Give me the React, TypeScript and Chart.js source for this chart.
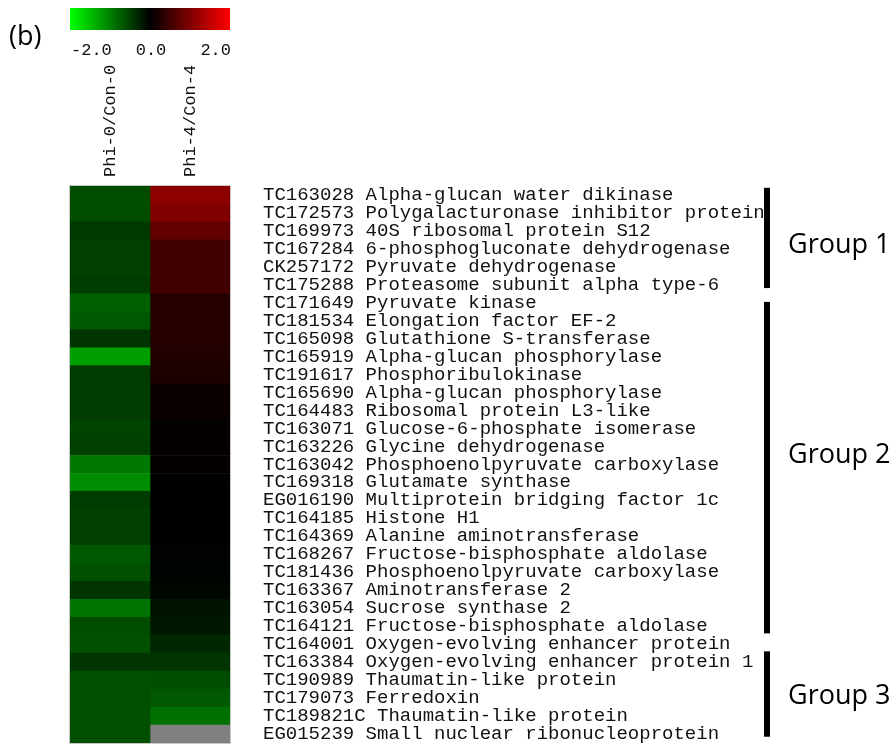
import React, { useEffect, useRef } from "react";
import { Chart, registerables } from "chart.js";

Chart.register(...registerables);

// ---------- data ----------
const conditions = ["Phi-0/Con-0", "Phi-4/Con-4"];

const genes = [
  "TC163028 Alpha-glucan water dikinase",
  "TC172573 Polygalacturonase inhibitor protein",
  "TC169973 40S ribosomal protein S12",
  "TC167284 6-phosphogluconate dehydrogenase",
  "CK257172 Pyruvate dehydrogenase",
  "TC175288 Proteasome subunit alpha type-6",
  "TC171649 Pyruvate kinase",
  "TC181534 Elongation factor EF-2",
  "TC165098 Glutathione S-transferase",
  "TC165919 Alpha-glucan phosphorylase",
  "TC191617 Phosphoribulokinase",
  "TC165690 Alpha-glucan phosphorylase",
  "TC164483 Ribosomal protein L3-like",
  "TC163071 Glucose-6-phosphate isomerase",
  "TC163226 Glycine dehydrogenase",
  "TC163042 Phosphoenolpyruvate carboxylase",
  "TC169318 Glutamate synthase",
  "EG016190 Multiprotein bridging factor 1c",
  "TC164185 Histone H1",
  "TC164369 Alanine aminotransferase",
  "TC168267 Fructose-bisphosphate aldolase",
  "TC181436 Phosphoenolpyruvate carboxylase",
  "TC163367 Aminotransferase 2",
  "TC163054 Sucrose synthase 2",
  "TC164121 Fructose-bisphosphate aldolase",
  "TC164001 Oxygen-evolving enhancer protein",
  "TC163384 Oxygen-evolving enhancer protein 1",
  "TC190989 Thaumatin-like protein",
  "TC179073 Ferredoxin",
  "TC189821C Thaumatin-like protein",
  "EG015239 Small nuclear ribonucleoprotein",
];

const phi0Con0: (number | null)[] = [
  -0.6, -0.6, -0.44, -0.5, -0.5, -0.47, -0.75, -0.69, -0.41, -1.25,
  -0.47, -0.47, -0.47, -0.53, -0.5, -0.94, -1.1, -0.47, -0.5, -0.5,
  -0.69, -0.63, -0.41, -0.91, -0.6, -0.63, -0.41, -0.63, -0.63, -0.63,
  -0.63,
];

const phi4Con4: (number | null)[] = [
  1.1, 1.0, 0.78, 0.5, 0.5, 0.5, 0.28, 0.28, 0.28, 0.25,
  0.22, 0.09, 0.09, 0.03, 0.03, 0.03, 0.02, 0.01, 0.0, 0.0,
  -0.02, -0.03, -0.05, -0.16, -0.19, -0.31, -0.41, -0.6, -0.69, -0.88,
  null,
];

const colorRange = [-2, 0, 2];
const colorTickLabels = ["-2.0", "0.0", "2.0"];

// group brackets, in row units (0 = top of first row)
const groupNames = ["Group 1", "Group 2", "Group 3"];
const groupFrom = [0.1, 6.45, 25.9];
const groupTo = [5.68, 24.9, 30.65];
const groupLabelAt = [3.17, 14.86, 28.3];

// ---------- helpers ----------
function valueColor(v: number | null): string {
  if (v === null || v === undefined) return "#808080";
  const t = Math.max(-1, Math.min(1, v / colorRange[2]));
  const c = Math.round(Math.abs(t) * 255);
  return t >= 0 ? `rgb(${c},0,0)` : `rgb(0,${c},0)`;
}

const MONO = "'Liberation Mono', 'Courier New', monospace";
const SANS = "'Open Sans', 'Noto Sans', sans-serif";

const decorPlugin = {
  id: "decor",
  afterDraw(chart: any) {
    const { ctx, chartArea } = chart;
    const yScale = chart.scales.y;
    const L = chartArea.left;
    const R = chartArea.right;
    ctx.save();

    // thin frame around heatmap
    ctx.strokeStyle = "#c8c8c8";
    ctx.lineWidth = 1;
    ctx.strokeRect(L - 0.5, chartArea.top - 0.5, R - L + 1, chartArea.bottom - chartArea.top + 1);

    // colour bar
    const grad = ctx.createLinearGradient(L, 0, R, 0);
    grad.addColorStop(0, valueColor(colorRange[0]));
    grad.addColorStop(0.5, valueColor(colorRange[1]));
    grad.addColorStop(1, valueColor(colorRange[2]));
    ctx.fillStyle = grad;
    ctx.fillRect(L, 8, R - L, 22);

    ctx.fillStyle = "#111";
    ctx.font = `17px ${MONO}`;
    ctx.textBaseline = "alphabetic";
    ctx.textAlign = "left";
    ctx.fillText(colorTickLabels[0], L + 1, 55);
    ctx.textAlign = "center";
    ctx.fillText(colorTickLabels[1], (L + R) / 2 + 1, 55);
    ctx.textAlign = "right";
    ctx.fillText(colorTickLabels[2], R + 1, 55);

    // panel letter
    ctx.fillStyle = "#000";
    ctx.font = `27px ${SANS}`;
    ctx.textAlign = "left";
    ctx.fillText("(b)", 9, 45);

    // group brackets
    const n = genes.length;
    const pix = (r: number) => yScale.getPixelForDecimal(r / n);
    groupNames.forEach((name, i) => {
      const y0 = pix(groupFrom[i]);
      const y1 = pix(groupTo[i]);
      ctx.fillStyle = "#000";
      ctx.fillRect(764, y0, 6, y1 - y0);
      ctx.font = `27px ${SANS}`;
      ctx.textAlign = "left";
      ctx.textBaseline = "alphabetic";
      ctx.fillText(name, 788, pix(groupLabelAt[i]) + 9.8);
    });

    ctx.restore();
  },
};

export default function App() {
  const ref = useRef<HTMLCanvasElement | null>(null);

  useEffect(() => {
    if (!ref.current) return;
    const series = [phi0Con0, phi4Con4];
    const chart = new Chart(ref.current, {
      type: "bar",
      data: {
        labels: genes,
        datasets: conditions.map((c, ci) => ({
          label: c,
          data: genes.map(() => [ci, ci + 1]) as any,
          backgroundColor: series[ci].map(valueColor),
          borderWidth: 0,
          barPercentage: 1,
          categoryPercentage: 1,
          grouped: false,
        })),
      },
      options: {
        indexAxis: "y",
        animation: false,
        responsive: false,
        layout: { padding: { left: 70, right: 0, top: 0, bottom: 4 } },
        plugins: { legend: { display: false }, tooltip: { enabled: false } },
        scales: {
          x: { type: "linear", min: 0, max: 2, display: false },
          x2: {
            type: "category",
            labels: conditions,
            position: "top",
            offset: true,
            grid: { display: false, drawTicks: false },
            border: { display: false },
            ticks: {
              autoSkip: false,
              minRotation: 90,
              maxRotation: 90,
              padding: 9,
              labelOffset: 20.4,
              color: "#111",
              font: { family: MONO, size: 17 },
            },
            afterFit: (s: any) => {
              s.height = 186;
              s.paddingLeft = 0;
              s.paddingRight = 0;
            },
          },
          y: {
            type: "category",
            position: "right",
            offset: true,
            grid: { display: false, drawTicks: false },
            border: { display: false },
            ticks: {
              autoSkip: false,
              padding: 33,
              color: "#111",
              font: { family: MONO, size: 19 },
            },
            afterFit: (s: any) => {
              s.width = 666;
              s.paddingTop = 0;
              s.paddingBottom = 0;
            },
          },
        },
      } as any,
      plugins: [decorPlugin],
    });
    return () => chart.destroy();
  }, []);

  return (
    <canvas
      ref={ref}
      width={896}
      height={747}
      style={{ position: "absolute", left: 0, top: 0, display: "block", background: "#fff" }}
    />
  );
}
